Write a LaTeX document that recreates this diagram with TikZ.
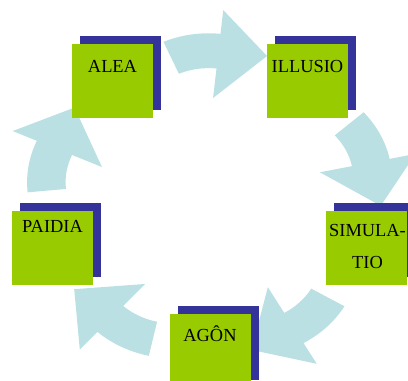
\documentclass[tikz,border=0pt]{standalone}
\usepackage{fontspec}
\setmainfont{Liberation Serif}
\usetikzlibrary{shadows}
\definecolor{boxgreen}{HTML}{99CC00}
\definecolor{boxshade}{HTML}{333399}
\definecolor{arrowblue}{HTML}{BBE0E3}
\begin{document}
\begin{tikzpicture}[x=1pt, y=1pt,
    sq/.style={fill=boxgreen, minimum width=81pt, minimum height=74pt, inner sep=0pt,
      drop shadow={fill=boxshade, opacity=1, shadow xshift=8pt, shadow yshift=8pt}},
    lbl/.style={font=\fontsize{18.4}{32.3}\selectfont, anchor=base, align=center, inner sep=0pt}]
 \useasboundingbox (0,0) rectangle (408,381);
 \clip (0,0) rectangle (408,381);
    % Arrows of the cycle
 \foreach \rot/\cx in {0/210, -72/210, -144/203, -216/215, -288/210} {
   \begin{scope}[shift={(\cx,179.3)}, yscale=0.905, rotate=\rot, shift={(-1.3,73.1)}]
     \fill[arrowblue] (113.6:113) arc[start angle=113.6, end angle=84, radius=113]
       -- (84:139.4) -- (56.4:105.5) -- (84:41.7) -- (84:74.5)
       arc[start angle=84, end angle=113.6, radius=74.5] -- cycle;
   \end{scope}
 }
    % Boxes
 \node[sq] (alea) at (112.5,300) {};
 \node[sq] (illusio) at (307.5,300) {};
 \node[sq] (simulatio) at (366.5,133.1) {};
 \node[sq] (agon) at (210,30) {};
 \node[sq] (paidia) at (52.5,133.1) {};
 \node[lbl] (alea-t) at ([yshift=-28.3]alea.north) {ALEA};
 \node[lbl] (illusio-t) at ([yshift=-28.7]illusio.north) {ILLUSIO};
 \node[lbl] (simulatio-t) at (367.5,112) {SIMULA-\\TIO};
 \node[lbl] (agon-t) at ([yshift=-28]agon.north) {AGÔN};
 \node[lbl] (paidia-t) at ([yshift=-21.7]paidia.north) {PAIDIA};
\end{tikzpicture}
\end{document}
